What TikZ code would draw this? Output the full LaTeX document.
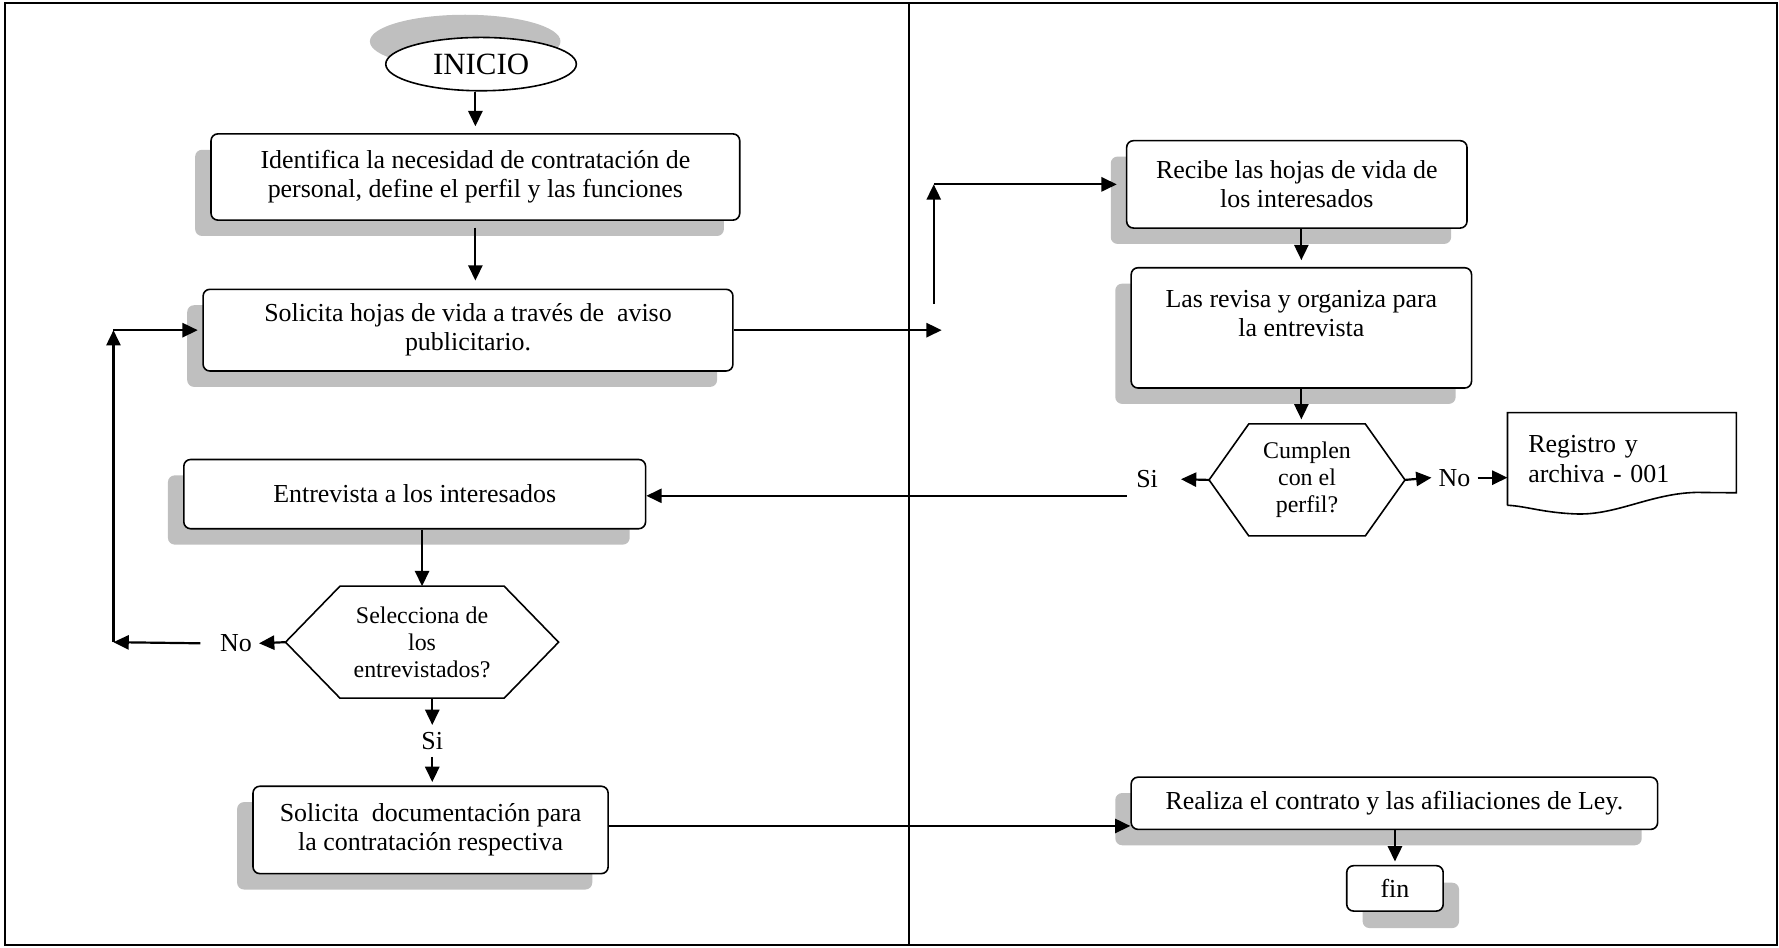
\documentclass[tikz,border=0pt]{standalone}
\usepackage{fontspec}
\setmainfont{Liberation Serif}
\usetikzlibrary{arrows.meta,shadows,shapes.geometric,calc}
\def\hexagon[#1](#2)(#3){\draw[#1] (#2.west) -- ([xshift=#3]#2.north west) -- ([xshift=-#3]#2.north east) -- (#2.east) -- ([xshift=-#3]#2.south east) -- ([xshift=#3]#2.south west) -- cycle;}

\begin{document}
\begin{tikzpicture}[
	box/.style={draw, line width=0.8pt, rounded corners=0.12cm, fill=white, align=center, inner sep=0pt, font=\fontsize{13}{14.5}\selectfont},
	proc/.style={box, drop shadow={shadow xshift=-0.28cm, shadow yshift=-0.28cm, fill=black!25, opacity=1}},
	decide/.style={align=center, inner sep=0pt, font=\fontsize{12}{13.6}\selectfont},
	lbl/.style={inner sep=0.12cm, font=\fontsize{13}{14.5}\selectfont},
	arr/.style={line width=1.1pt, -{Triangle[length=0.27cm,width=0.25cm]}}
	]
		%%%%% FRAME %%%%%
		\useasboundingbox (0,0) rectangle (31.36,16.70);
		\draw[line width=1pt] (0.08,0.04) rectangle (31.32,16.64);
		\draw[line width=1pt] (16.02,0.04) -- (16.02,16.64);
		
		%%%%% LEFT LANE %%%%%
		\node[draw, ellipse, line width=0.8pt, fill=white, minimum width=3.36cm, minimum height=0.94cm, inner sep=0pt, font=\fontsize{15.5}{18}\selectfont, drop shadow={shadow xshift=-0.28cm, shadow yshift=0.40cm, fill=black!25, opacity=1}] (inicio) at (8.48,15.57) {INICIO};
		\node[proc, minimum width=9.32cm, minimum height=1.52cm] (ident) at (8.38,13.58) {Identifica la necesidad de contratación de\\personal, define el perfil y las funciones};
		\node[proc, minimum width=9.34cm, minimum height=1.44cm] (solic) at (8.25,10.88) {Solicita hojas de vida a través de~ aviso\\publicitario.};
		\node[proc, minimum width=8.14cm, minimum height=1.22cm] (entrev) at (7.31,7.99) {Entrevista a los interesados};
		\node[decide, minimum width=4.8cm, minimum height=1.96cm] (selec) at (7.44,5.38) {Selecciona de\\los\\entrevistados?};
		\hexagon[line width=0.8pt](selec)(0.96cm)
		\node[proc, minimum width=6.26cm, minimum height=1.54cm] (soldoc) at (7.59,2.07) {Solicita~ documentación para\\la contratación respectiva};
		
		\node[lbl] (noB) at (4.16,5.36) {No};
		\node[lbl] (siB) at (7.62,3.64) {Si};
		
		%%%%% RIGHT LANE %%%%%
		\node[proc, minimum width=6cm, minimum height=1.54cm] (recibe) at (22.86,13.45) {Recibe las hojas de vida de\\los interesados};
		\node[proc, minimum width=6cm, minimum height=2.12cm] (revisa) at (22.94,10.92) {Las revisa y organiza para\\la entrevista\\\mbox{}};
		\node[decide, minimum width=3.44cm, minimum height=1.96cm] (cumplen) at (23.04,8.24) {Cumplen\\con el\\perfil?};
		\hexagon[line width=0.8pt](cumplen)(0.70cm)
		\node[align=left, text width=3.3cm, inner xsep=0.36cm, inner ysep=0pt, minimum height=1.62cm, font=\fontsize{13}{14.7}\selectfont] (reg) at (28.59,8.61) {Registro y\\archiva - 001};
		\draw[line width=0.8pt] (reg.south west) -- (reg.north west) -- (reg.north east) -- ([yshift=0.22cm]reg.south east) -- (29.90,8.02) .. controls (29.1,8.0) and (28.5,7.62) .. (27.8,7.64) .. controls (27.2,7.66) and (26.9,7.78) .. (reg.south west);
		\node[proc, minimum width=9.28cm, minimum height=0.92cm] (realiza) at (24.58,2.54) {Realiza el contrato y las afiliaciones de Ley.};
		\node[box, minimum width=1.70cm, minimum height=0.80cm, drop shadow={shadow xshift=0.28cm, shadow yshift=-0.30cm, fill=black!25, opacity=1}] (fin) at (24.59,1.04) {fin};
		
		\node[lbl] (siA) at (20.22,8.26) {Si};
		\node[lbl] (noA) at (25.64,8.28) {No};
		
		%%%%% CONNECTORS %%%%%
		\coordinate (c1) at (16.60,10.88);
		\coordinate (c2) at (16.46,11.34);
		\coordinate (c3) at (19.86,7.96);
		\coordinate (c4) at (2.00,5.38);
		\coordinate (c5) at ([yshift=0.07cm]soldoc.east);
		
		\draw[arr] (ident.north |- inicio.south) -- ([yshift=0.12cm]ident.north);
		\draw[arr] ([yshift=-0.12cm]ident.south) -- ([yshift=0.14cm]ident.south |- solic.north);
		\draw[arr] (solic.east) -- (c1);
		\draw[arr] (c2) -- (c2 |- recibe.west);
		\draw[arr, shorten >=0.16cm] (c2 |- recibe.west) -- (recibe.west);
		\draw[arr, shorten >=0.12cm] (revisa.north |- recibe.south) -- (revisa.north);
		\draw[arr, shorten >=0.08cm] (revisa.south) -- (revisa.south |- cumplen.north);
		\draw[arr, shorten >=0.28cm] (cumplen.west) -- (siA.east);
		\draw[arr] (c3) -- (c3 -| entrev.east);
		\draw[arr] (cumplen.east) -- (noA.west);
		\draw[arr] (noA.east) -- (noA.east -| reg.west);
		\draw[arr] (entrev.south -| selec.north) -- (selec.north);
		\draw[arr] (selec.west) -- (noB.east);
		\draw[arr] ([xshift=-0.22cm]noB.west) -- (c4);
		\draw[arr] (c4) -- (c4 |- solic.west);
		\draw[arr, shorten >=0.08cm] (c4 |- solic.west) -- (solic.west);
		\draw[arr] (siB.north |- selec.south) -- (siB.north);
		\draw[arr, shorten >=0.06cm] (siB.south) -- (siB.south |- soldoc.north);
		\draw[arr] (c5) -- (c5 -| realiza.west);
		\draw[arr, shorten >=0.06cm] (fin.north |- realiza.south) -- (fin.north);
	\end{tikzpicture}
\end{document}
